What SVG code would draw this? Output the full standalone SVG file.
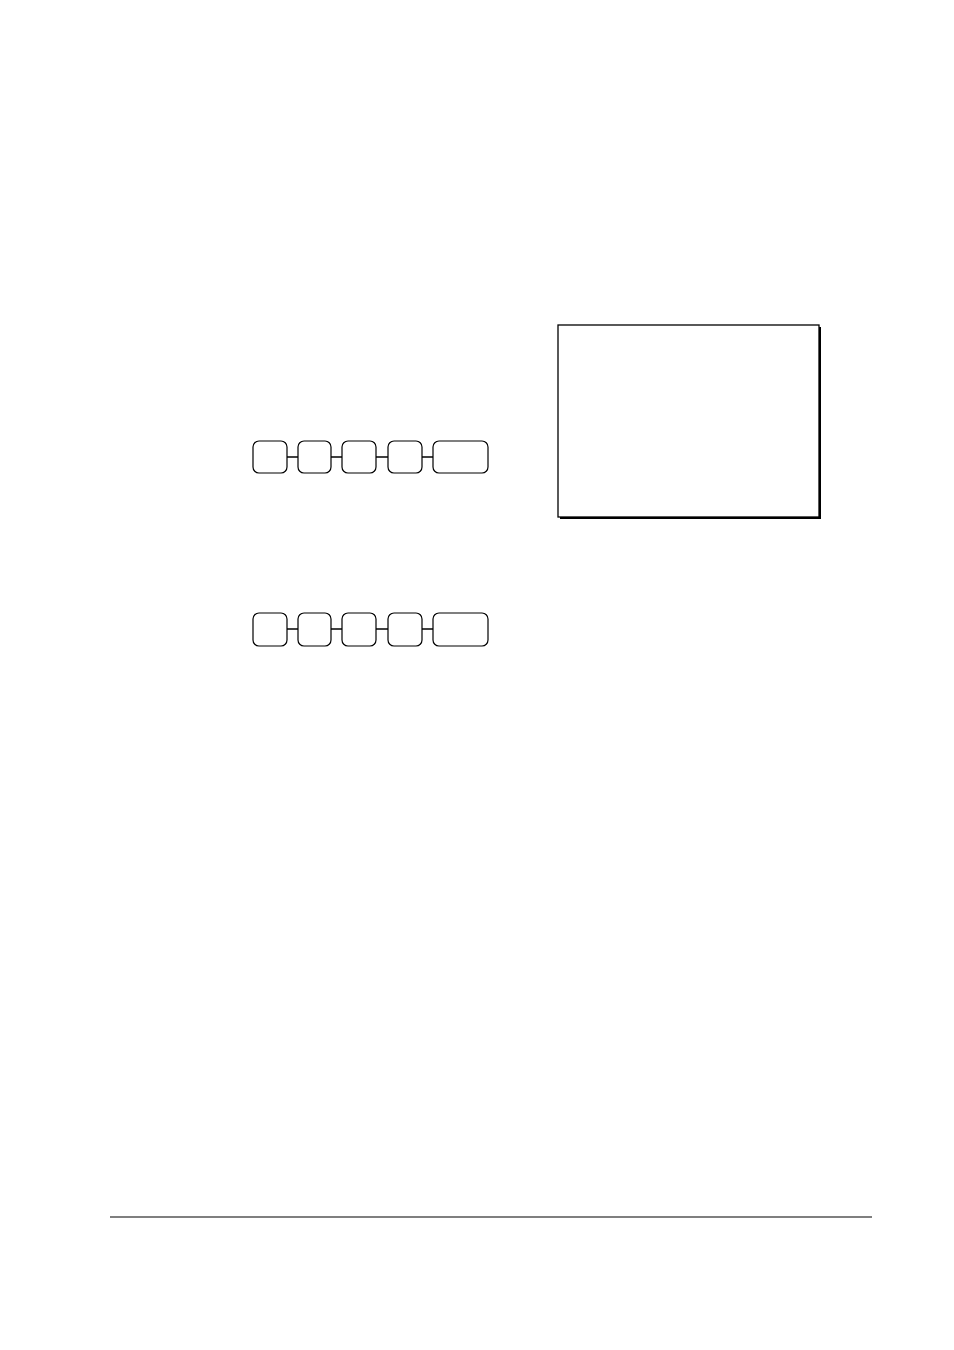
<svg xmlns="http://www.w3.org/2000/svg" width="954" height="1350" viewBox="0 0 954 1350">
<style>
.key{fill:#fff;stroke:#000;stroke-width:1.2}
.conn{stroke:#000;stroke-width:1.5;fill:none}
</style>
<rect width="954" height="1350" fill="#fff"/>
<g id="connectors">
<line class="conn" x1="287" y1="457" x2="298" y2="457"/>
<line class="conn" x1="331" y1="457" x2="342" y2="457"/>
<line class="conn" x1="376" y1="457" x2="388" y2="457"/>
<line class="conn" x1="422" y1="457" x2="433" y2="457"/>
<line class="conn" x1="287" y1="629" x2="298" y2="629"/>
<line class="conn" x1="331" y1="629" x2="342" y2="629"/>
<line class="conn" x1="376" y1="629" x2="388" y2="629"/>
<line class="conn" x1="422" y1="629" x2="433" y2="629"/>
</g>
<g id="row1">
<rect id="k1a" class="key" x="253" y="441" width="34" height="32" rx="6"/>
<rect id="k1b" class="key" x="298" y="441" width="33" height="32" rx="6"/>
<rect id="k1c" class="key" x="342" y="441" width="34" height="32" rx="6"/>
<rect id="k1d" class="key" x="388" y="441" width="34" height="32" rx="6"/>
<rect id="k1e" class="key" x="433" y="441" width="55" height="32" rx="6"/>
</g>
<g id="row2">
<rect id="k2a" class="key" x="253" y="613" width="34" height="33" rx="6"/>
<rect id="k2b" class="key" x="298" y="613" width="33" height="33" rx="6"/>
<rect id="k2c" class="key" x="342" y="613" width="34" height="33" rx="6"/>
<rect id="k2d" class="key" x="388" y="613" width="34" height="33" rx="6"/>
<rect id="k2e" class="key" x="433" y="613" width="55" height="33" rx="6"/>
</g>
<g id="receipt">
<rect x="560" y="327" width="261" height="192" fill="#000"/>
<rect x="558" y="325" width="261" height="192" fill="#fff" stroke="#000" stroke-width="1.3"/>
</g>
<line id="footer" x1="110" y1="1217" x2="872" y2="1217" stroke="#000" stroke-width="1.2"/>
</svg>
